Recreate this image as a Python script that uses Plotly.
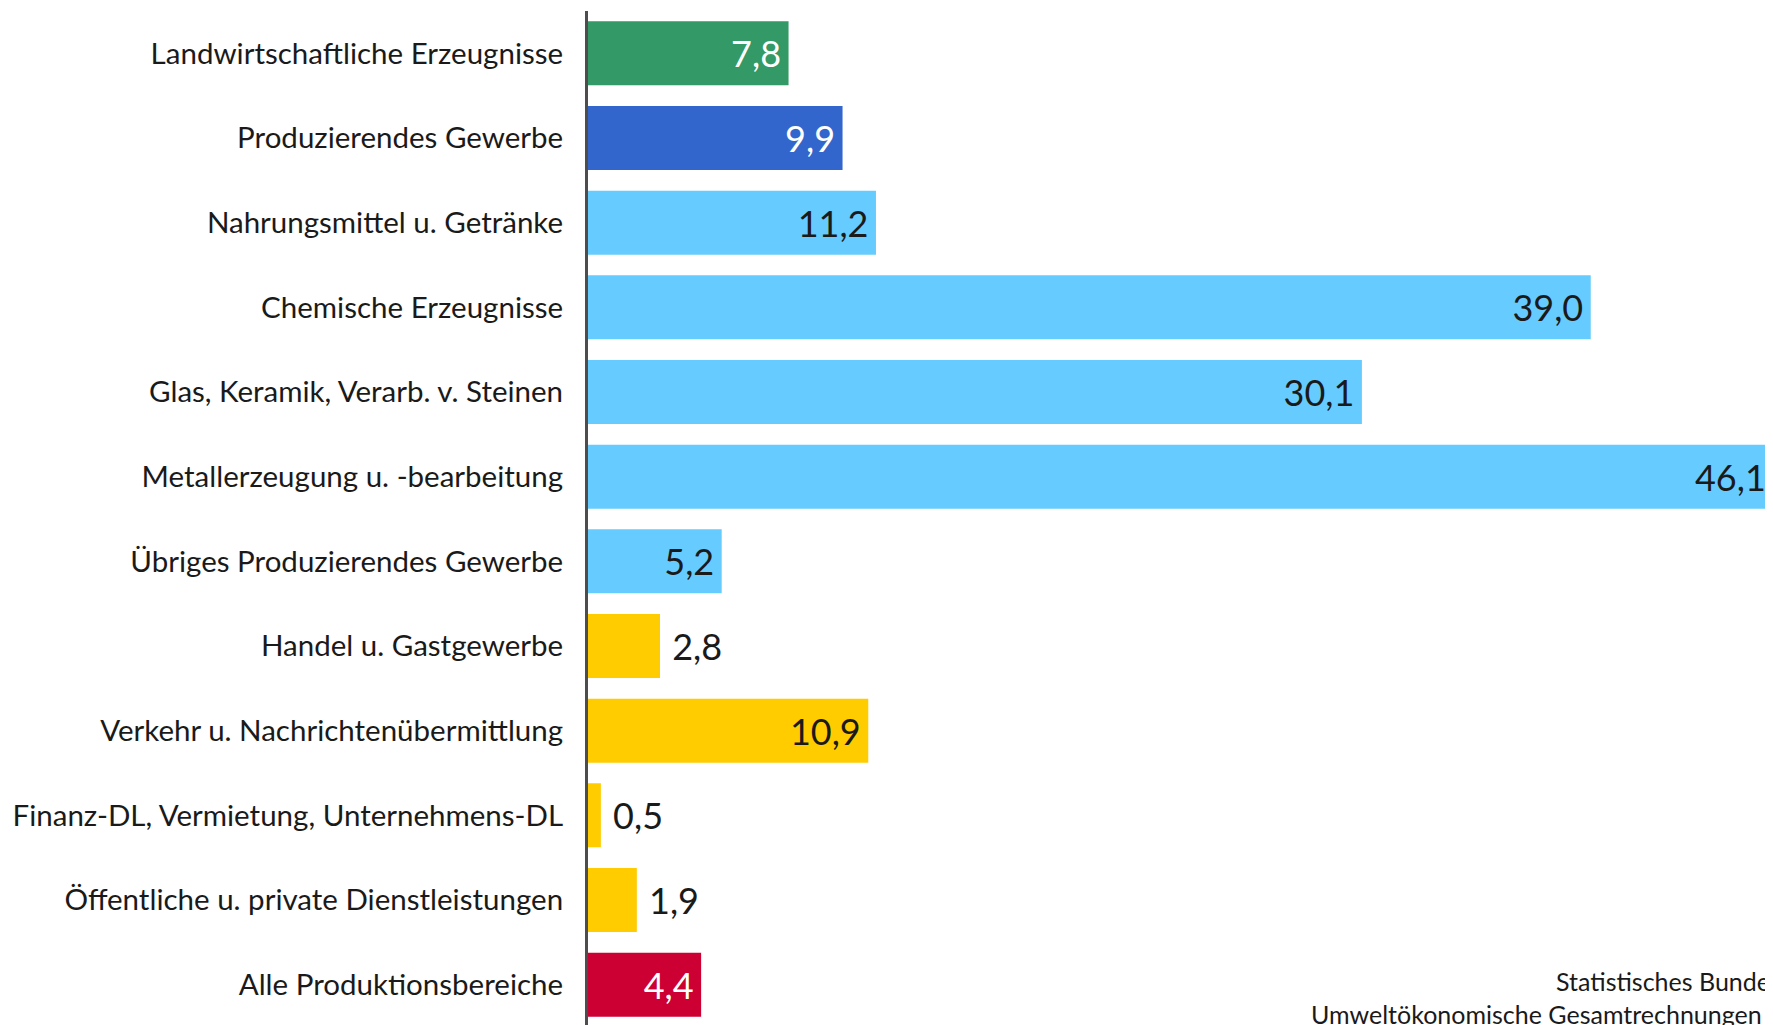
import plotly.graph_objects as go

categories = [
    "Landwirtschaftliche Erzeugnisse",
    "Produzierendes Gewerbe",
    "Nahrungsmittel u. Getränke",
    "Chemische Erzeugnisse",
    "Glas, Keramik, Verarb. v. Steinen",
    "Metallerzeugung u. -bearbeitung",
    "Übriges Produzierendes Gewerbe",
    "Handel u. Gastgewerbe",
    "Verkehr u. Nachrichtenübermittlung",
    "Finanz-DL, Vermietung, Unternehmens-DL",
    "Öffentliche u. private Dienstleistungen",
    "Alle Produktionsbereiche",
]
values = [7.8, 9.9, 11.2, 39.0, 30.1, 46.1, 5.2, 2.8, 10.9, 0.5, 1.9, 4.4]
groups = ["agri", "prod", "sub", "sub", "sub", "sub", "sub",
          "serv", "serv", "serv", "serv", "total"]

source_lines = ["Statistisches Bundesamt,", "Umweltökonomische Gesamtrechnungen 2010"]

group_color = {"agri": "#339966", "prod": "#3366cc", "sub": "#66ccff",
               "serv": "#ffcc00", "total": "#cc0033"}
group_text = {"agri": "white", "prod": "white", "sub": "#1a1a1a",
              "serv": "#1a1a1a", "total": "white"}

colors = [group_color[g] for g in groups]
text_colors = [group_text[g] for g in groups]
positions = ["inside" if v >= 4 else "outside" for v in values]
text_colors = [c if p == "inside" else "#1a1a1a" for c, p in zip(text_colors, positions)]
templates = ["%{x:.1f}\u2009" if p == "inside" else " %{x:.1f}" for p in positions]

W, H = 1773, 1025
L, T, B = 580, 3, 6
PW, PH = W - L, H - T - B

fig = go.Figure(go.Bar(
    y=categories, x=values, orientation="h",
    marker=dict(color=colors, line=dict(width=0)),
    width=0.755,
    texttemplate=templates,
    textposition=positions,
    insidetextanchor="end",
    textfont=dict(family="Lato", size=36, color=text_colors),
    cliponaxis=False,
))

fig.update_layout(
    width=W, height=H,
    margin=dict(l=L, r=0, t=T, b=B),
    paper_bgcolor="white", plot_bgcolor="white",
    separators=",.",
    showlegend=False,
    uniformtext=dict(minsize=36, mode="show"),
    font=dict(family="Lato", color="#1a1a1a"),
    xaxis=dict(range=[0, 46.4], visible=False, fixedrange=True, automargin=False),
    yaxis=dict(autorange="reversed", showline=True, linecolor="#4d4d4d", linewidth=3,
               ticks="", ticklabelstandoff=16, automargin=False,
               tickfont=dict(family="Lato", size=29.5, color="#1a1a1a"),
               showgrid=False),
)

fig.add_annotation(text=source_lines[0], xref="paper", yref="paper",
                   x=(1546 - L) / PW, y=(H - B - 973) / PH, xanchor="left", yanchor="middle",
                   showarrow=False, font=dict(family="Lato", size=25, color="#1a1a1a"))
fig.add_annotation(text=source_lines[1], xref="paper", yref="paper",
                   x=(1301 - L) / PW, y=(H - B - 1006) / PH, xanchor="left", yanchor="middle",
                   showarrow=False, font=dict(family="Lato", size=25, color="#1a1a1a"))

fig.write_html("out.html")
